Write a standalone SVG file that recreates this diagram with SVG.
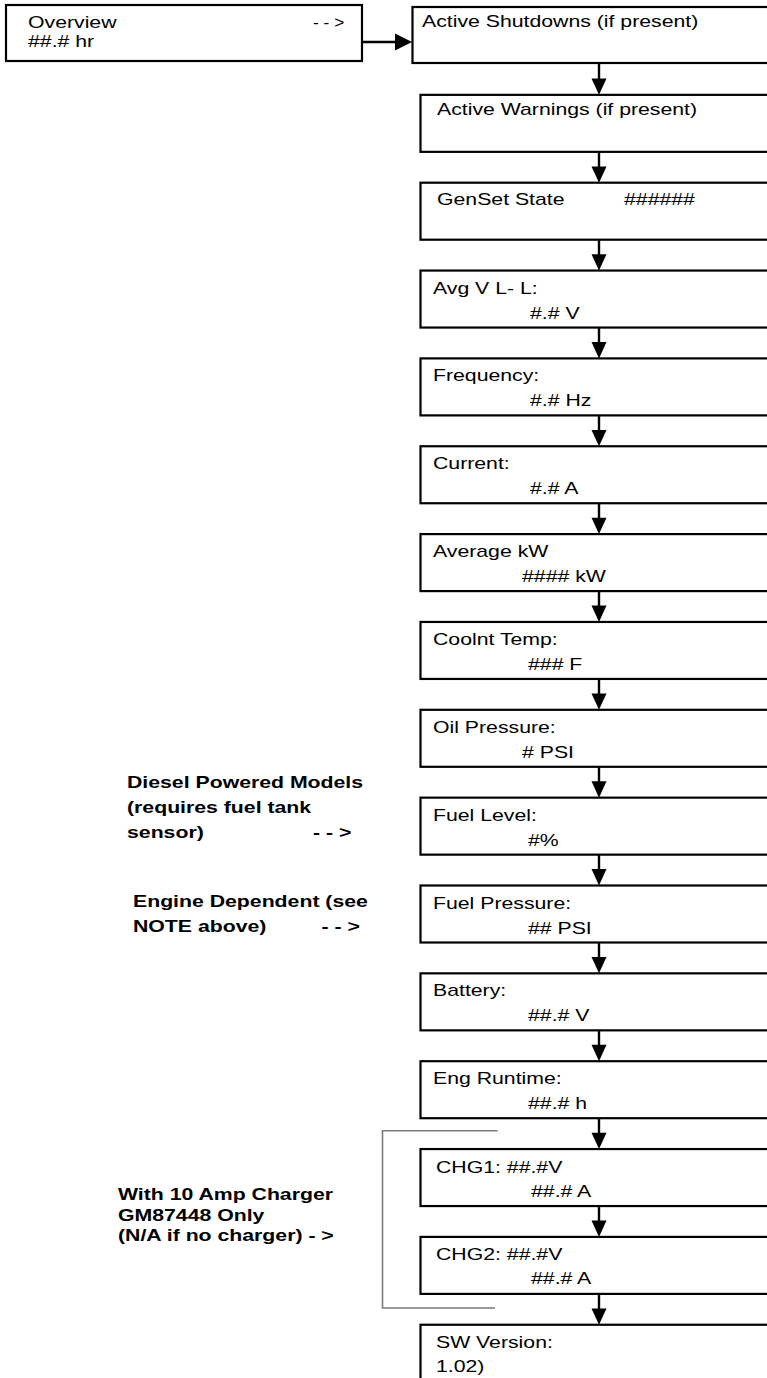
<svg xmlns="http://www.w3.org/2000/svg" width="767" height="1378" viewBox="0 0 767 1378">
<style>
  .box { fill: #ffffff; stroke: #000000; stroke-width: 2.2; }
  .t { font-family: "Liberation Sans", Arial, sans-serif; font-size: 17px; fill: #000000; }
  .b { font-family: "Liberation Sans", Arial, sans-serif; font-size: 17px; font-weight: bold; fill: #000000; }
  .line { stroke: #000000; stroke-width: 2.4; fill: none; }
  .head { fill: #000000; stroke: none; }
  .bracket { stroke: #7a7a7a; stroke-width: 1.6; fill: none; }
</style>
<rect width="767" height="1378" fill="#ffffff"/>

<g id="connectors">
  <line class="line" x1="362" y1="42" x2="398" y2="42"/>
  <polygon class="head" points="412,42 395,33.5 395,50.5"/>
  <line class="line" x1="599" y1="63" x2="599" y2="80"/>
  <polygon class="head" points="599,94.85 591.5,78.5 606.5,78.5"/>
  <line class="line" x1="599" y1="151.85" x2="599" y2="168"/>
  <polygon class="head" points="599,182.7 591.5,166.4 606.5,166.4"/>
  <line class="line" x1="599" y1="239.7" x2="599" y2="256"/>
  <polygon class="head" points="599,270.55 591.5,254.2 606.5,254.2"/>
  <line class="line" x1="599" y1="327.55" x2="599" y2="344"/>
  <polygon class="head" points="599,358.4 591.5,342 606.5,342"/>
  <line class="line" x1="599" y1="415.4" x2="599" y2="432"/>
  <polygon class="head" points="599,446.25 591.5,429.9 606.5,429.9"/>
  <line class="line" x1="599" y1="503.25" x2="599" y2="520"/>
  <polygon class="head" points="599,534.1 591.5,517.7 606.5,517.7"/>
  <line class="line" x1="599" y1="591.1" x2="599" y2="607"/>
  <polygon class="head" points="599,621.95 591.5,605.6 606.5,605.6"/>
  <line class="line" x1="599" y1="678.95" x2="599" y2="695"/>
  <polygon class="head" points="599,709.8 591.5,693.4 606.5,693.4"/>
  <line class="line" x1="599" y1="766.8" x2="599" y2="783"/>
  <polygon class="head" points="599,797.65 591.5,781.3 606.5,781.3"/>
  <line class="line" x1="599" y1="854.65" x2="599" y2="871"/>
  <polygon class="head" points="599,885.5 591.5,869.1 606.5,869.1"/>
  <line class="line" x1="599" y1="942.5" x2="599" y2="959"/>
  <polygon class="head" points="599,973.35 591.5,957 606.5,957"/>
  <line class="line" x1="599" y1="1030.35" x2="599" y2="1047"/>
  <polygon class="head" points="599,1061.2 591.5,1044.8 606.5,1044.8"/>
  <line class="line" x1="599" y1="1118.2" x2="599" y2="1135"/>
  <polygon class="head" points="599,1149.05 591.5,1132.7 606.5,1132.7"/>
  <line class="line" x1="599" y1="1206.05" x2="599" y2="1222"/>
  <polygon class="head" points="599,1236.9 591.5,1220.5 606.5,1220.5"/>
  <line class="line" x1="599" y1="1293.9" x2="599" y2="1310"/>
  <polygon class="head" points="599,1324.75 591.5,1308.4 606.5,1308.4"/>
</g>

<g id="bracket">
  <polyline class="bracket" points="497.5,1130.7 382.5,1130.7 382.5,1308 495,1308"/>
</g>

<g id="overview">
  <rect class="box" x="6" y="5" width="356" height="56"/>
  <text class="t" transform="translate(28,28) scale(1.25,1)">Overview</text>
  <text class="t" transform="translate(313,28) scale(1.25,1)" textLength="25" lengthAdjust="spacingAndGlyphs">- - &gt;</text>
  <text class="t" transform="translate(28,47) scale(1.25,1)">##.# hr</text>
</g>

<g id="active-shutdowns">
  <rect class="box" x="412.5" y="7" width="380" height="56"/>
  <text class="t" transform="translate(422,27) scale(1.25,1)">Active Shutdowns (if present)</text>
</g>

<g id="active-warnings">
  <rect class="box" x="420.5" y="94.85" width="380" height="57"/>
  <text class="t" transform="translate(437,115) scale(1.25,1)">Active Warnings (if present)</text>
</g>

<g id="genset-state">
  <rect class="box" x="420.5" y="182.7" width="380" height="57"/>
  <text class="t" transform="translate(437,205) scale(1.25,1)">GenSet State</text>
  <text class="t" transform="translate(624,205) scale(1.25,1)">######</text>
</g>

<g id="avg-v">
  <rect class="box" x="420.5" y="270.55" width="380" height="57"/>
  <text class="t" transform="translate(433,293.5) scale(1.25,1)">Avg V L- L:</text>
  <text class="t" transform="translate(530,318.5) scale(1.25,1)">#.# V</text>
</g>

<g id="frequency">
  <rect class="box" x="420.5" y="358.4" width="380" height="57"/>
  <text class="t" transform="translate(433,381.4) scale(1.25,1)">Frequency:</text>
  <text class="t" transform="translate(530,406.4) scale(1.25,1)">#.# Hz</text>
</g>

<g id="current">
  <rect class="box" x="420.5" y="446.25" width="380" height="57"/>
  <text class="t" transform="translate(433,469.2) scale(1.25,1)">Current:</text>
  <text class="t" transform="translate(530,494.2) scale(1.25,1)">#.# A</text>
</g>

<g id="average-kw">
  <rect class="box" x="420.5" y="534.1" width="380" height="57"/>
  <text class="t" transform="translate(433,557) scale(1.25,1)">Average kW</text>
  <text class="t" transform="translate(522,582) scale(1.25,1)">#### kW</text>
</g>

<g id="coolant-temp">
  <rect class="box" x="420.5" y="621.95" width="380" height="57"/>
  <text class="t" transform="translate(433,645) scale(1.25,1)">Coolnt Temp:</text>
  <text class="t" transform="translate(528,670) scale(1.25,1)">### F</text>
</g>

<g id="oil-pressure">
  <rect class="box" x="420.5" y="709.8" width="380" height="57"/>
  <text class="t" transform="translate(433,733) scale(1.25,1)">Oil Pressure:</text>
  <text class="t" transform="translate(522,758) scale(1.25,1)"># PSI</text>
</g>

<g id="fuel-level">
  <rect class="box" x="420.5" y="797.65" width="380" height="57"/>
  <text class="t" transform="translate(433,820.6) scale(1.25,1)">Fuel Level:</text>
  <text class="t" transform="translate(528,845.6) scale(1.25,1)">#%</text>
</g>

<g id="fuel-pressure">
  <rect class="box" x="420.5" y="885.5" width="380" height="57"/>
  <text class="t" transform="translate(433,908.5) scale(1.25,1)">Fuel Pressure:</text>
  <text class="t" transform="translate(528,933.5) scale(1.25,1)">## PSI</text>
</g>

<g id="battery">
  <rect class="box" x="420.5" y="973.35" width="380" height="57"/>
  <text class="t" transform="translate(433,996.3) scale(1.25,1)">Battery:</text>
  <text class="t" transform="translate(528,1021.3) scale(1.25,1)">##.# V</text>
</g>

<g id="eng-runtime">
  <rect class="box" x="420.5" y="1061.2" width="380" height="57"/>
  <text class="t" transform="translate(433,1084.2) scale(1.25,1)">Eng Runtime:</text>
  <text class="t" transform="translate(528,1109.2) scale(1.25,1)">##.# h</text>
</g>

<g id="chg1">
  <rect class="box" x="420.5" y="1149.05" width="380" height="57"/>
  <text class="t" transform="translate(436,1172.5) scale(1.25,1)">CHG1: ##.#V</text>
  <text class="t" transform="translate(531,1196.5) scale(1.25,1)">##.# A</text>
</g>

<g id="chg2">
  <rect class="box" x="420.5" y="1236.9" width="380" height="57"/>
  <text class="t" transform="translate(436,1260.3) scale(1.25,1)">CHG2: ##.#V</text>
  <text class="t" transform="translate(531,1284.3) scale(1.25,1)">##.# A</text>
</g>

<g id="sw-version">
  <rect class="box" x="420.5" y="1324.75" width="380" height="57"/>
  <text class="t" transform="translate(436,1348) scale(1.25,1)">SW Version:</text>
  <text class="t" transform="translate(436,1372) scale(1.25,1)">1.02)</text>
</g>

<g id="note-diesel">
  <text class="b" transform="translate(127,788) scale(1.25,1)">Diesel Powered Models</text>
  <text class="b" transform="translate(127,813) scale(1.25,1)">(requires fuel tank</text>
  <text class="b" transform="translate(127,838) scale(1.25,1)">sensor)</text>
  <text class="b" transform="translate(313,838) scale(1.25,1)">- - &gt;</text>
</g>

<g id="note-engine">
  <text class="b" transform="translate(133,906.5) scale(1.25,1)">Engine Dependent (see</text>
  <text class="b" transform="translate(133,931.5) scale(1.25,1)">NOTE above)</text>
  <text class="b" transform="translate(321.5,931.5) scale(1.25,1)">- - &gt;</text>
</g>

<g id="note-charger">
  <text class="b" transform="translate(118,1200) scale(1.25,1)">With 10 Amp Charger</text>
  <text class="b" transform="translate(118,1220.5) scale(1.25,1)">GM87448 Only</text>
  <text class="b" transform="translate(118,1241) scale(1.25,1)">(N/A if no charger) - &gt;</text>
</g>
</svg>
